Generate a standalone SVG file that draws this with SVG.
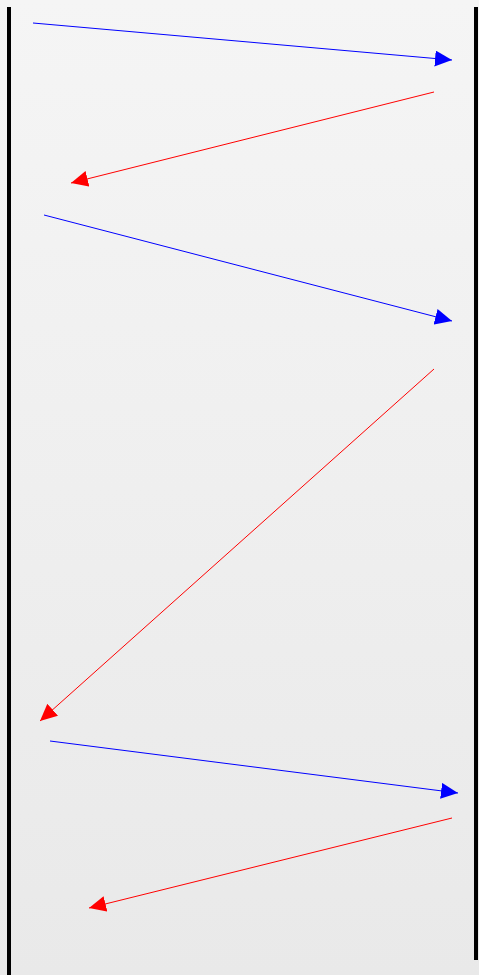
<svg xmlns="http://www.w3.org/2000/svg" width="479" height="975" viewBox="0 0 479 975">
<defs>
<linearGradient id="bg" x1="0" y1="0" x2="0" y2="1">
<stop offset="0" stop-color="#f5f5f5"/>
<stop offset="1" stop-color="#e9e9e9"/>
</linearGradient>
<marker id="ab" markerUnits="userSpaceOnUse" markerWidth="18" markerHeight="17" refX="17" refY="8" orient="auto">
<path d="M0,0 L17,8 L0,16 Z" fill="#0000ff"/>
</marker>
<marker id="ar" markerUnits="userSpaceOnUse" markerWidth="18" markerHeight="17" refX="17" refY="8" orient="auto">
<path d="M0,0 L17,8 L0,16 Z" fill="#ff0000"/>
</marker>
</defs>
<style>
.life{stroke:#000;stroke-width:4;fill:none}
.b{stroke:#0000ff;stroke-width:1;fill:none;marker-end:url(#ab)}
.r{stroke:#ff0000;stroke-width:1;fill:none;marker-end:url(#ar)}
</style>
<rect x="0" y="0" width="479" height="975" fill="url(#bg)"/>
<g id="lifeline-left"><line class="life" x1="9" y1="7" x2="9" y2="975"/></g>
<g id="lifeline-right"><line class="life" x1="476" y1="7" x2="476" y2="960"/></g>
<g id="connectors">
<line class="b" x1="33" y1="23" x2="452" y2="60"/>
<line class="r" x1="434" y1="92" x2="71" y2="183"/>
<line class="b" x1="44" y1="215" x2="452" y2="321"/>
<line class="r" x1="434" y1="369" x2="40" y2="721"/>
<line class="b" x1="50" y1="741" x2="458" y2="793"/>
<line class="r" x1="452" y1="818" x2="89" y2="908"/>
</g>
</svg>
